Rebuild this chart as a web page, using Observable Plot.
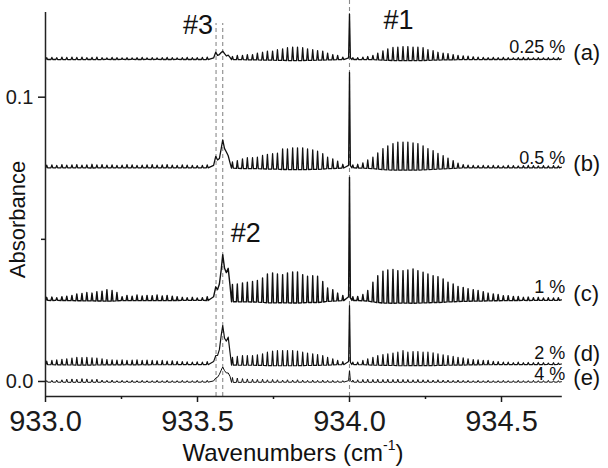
<!DOCTYPE html>
<html><head><meta charset="utf-8">
<script src="https://cdn.jsdelivr.net/npm/d3@7"></script>
<script src="https://cdn.jsdelivr.net/npm/@observablehq/plot@0.6"></script>
<style>
html,body{margin:0;padding:0;background:#fff;}
#chart svg{display:block;}
</style>
</head><body><div id="chart"></div>
<script>
// ---------- data ----------
// positions of the resolved rotational lines (cm-1)
const linePos = [
933.004,933.021,933.037,933.054,933.070,933.087,933.103,933.120,933.136,933.153,
933.169,933.186,933.202,933.219,933.235,933.252,933.268,933.285,933.301,933.318,
933.334,933.351,933.367,933.384,933.400,933.417,933.433,933.450,933.466,933.483,
933.499,933.516,933.532,933.549,933.565,933.582,933.598,933.615,933.631,933.648,
933.664,933.681,933.697,933.714,933.730,933.747,933.763,933.780,933.796,933.813,
933.829,933.846,933.862,933.879,933.895,933.912,933.928,933.945,933.961,933.978,
933.994,934.011,934.027,934.044,934.060,934.077,934.093,934.110,934.126,934.143,
934.159,934.176,934.192,934.209,934.225,934.242,934.258,934.275,934.291,934.308,
934.324,934.341,934.357,934.374,934.390,934.407,934.423,934.440,934.456,934.473,
934.489,934.506,934.522,934.539,934.555,934.572,934.588,934.605,934.621,934.638,
934.654,934.671,934.687];

const traceNames  = ["a","b","c","d","e"];
const traceLabels = ["0.25 %","0.5 %","1 %","2 %","4 %"];
const traceTags   = ["(a)","(b)","(c)","(d)","(e)"];
const traceOffset = [0.1135, 0.0754, 0.0288, 0.0062, 0.0];   // absorbance of each baseline

// line heights above baseline, in 10^-3 absorbance
const heightsA = [
0.4,0.5,0.4,0.6,0.5,0.6,0.5,0.6,0.4,0.5,
0.6,0.4,0.3,0.5,0.4,0.3,0.4,0.3,0.4,0.5,
0.3,0.4,0.3,0.4,0.5,0.4,0.3,0.4,0.5,0.4,
0.4,0.5,0.6,0,0,0,0,0.8,1.2,1.2,
1.5,1.5,2.0,2.3,2.7,2.7,3.2,3.5,3.9,4.1,
4.1,3.9,3.5,3.2,2.9,2.7,2.0,1.5,1.2,0.6,
0,0.4,0.4,0.6,0.8,1.2,2.0,2.8,3.5,4.0,
4.1,4.3,4.3,4.1,4.1,3.9,3.2,2.9,2.3,2.0,
1.8,1.5,1.2,1.0,0.9,0.7,0.6,0.5,0.4,0.5,
0.4,0.5,0.4,0.3,0.4,0.5,0.4,0.3,0.4,0.3,
0.4,0.3,0.4];
const heightsB = [
0.7,0.8,0.6,0.9,0.7,0.8,0.9,0.7,0.8,1.0,
0.8,0.9,0.7,0.8,0.6,0.7,0.9,0.8,0.6,0.7,
0.8,0.9,0.7,0.8,0.9,0.7,0.6,0.8,0.7,0.6,
0.5,0.6,0.8,0,0,0,0,1.8,2.3,2.9,
3.3,3.3,3.5,4.1,4.5,4.7,4.9,6.4,6.4,6.8,
6.8,6.8,6.4,6.1,5.6,4.7,3.5,2.9,2.1,1.0,
0,0.8,1.0,1.5,2.5,3.5,5.0,6.5,7.5,8.3,
8.8,8.8,8.8,8.5,8.3,7.5,6.5,5.8,4.8,4.0,
3.2,2.3,1.4,0.9,0.7,0.6,0.5,0.6,0.5,0.6,
0.5,0.4,0.6,0.5,0.4,0.5,0.6,0.5,0.4,0.5,
0.4,0.5,0.4];
const heightsC = [
0.8,0.9,0.7,1.0,1.2,1.5,2.0,2.2,2.5,2.3,
2.8,3.0,3.5,3.2,2.5,1.0,1.5,1.2,1.6,1.3,
1.5,1.4,1.6,1.3,1.5,1.2,1.0,0.8,0.7,0.8,
0.6,0.7,1.0,0,0,0,0,5.3,5.5,5.9,
6.1,6.4,6.7,7.6,9.0,9.4,9.0,8.8,9.4,9.7,
9.7,8.8,8.2,8.4,8.2,6.4,4.1,3.5,2.3,1.5,
0,1.0,1.1,1.8,3.2,6.1,8.4,10.0,10.4,10.6,
10.2,10.2,10.4,10.8,10.2,9.6,9.0,8.4,8.1,7.3,
6.1,5.5,4.6,4.3,3.8,3.5,3.2,2.8,2.3,2.0,
1.8,1.4,1.4,1.1,1.1,0.8,0.9,0.7,0.8,0.6,
0.7,0.6,0.7];
const heightsD = [
1.0,1.2,1.4,1.6,1.8,2.0,2.3,2.2,2.3,2.1,
2.0,1.8,1.5,1.4,1.3,1.4,1.2,1.3,1.4,1.2,
1.3,1.2,1.1,1.2,1.0,1.1,0.9,0.8,0.7,0.6,
0.7,0.6,0.8,0,0,0,0,2.3,2.6,2.9,
2.9,2.9,3.2,3.5,4.1,4.5,4.7,4.7,4.7,4.7,
4.5,4.1,3.8,3.5,3.3,2.9,2.3,1.8,1.2,0.8,
0,0.6,0.6,1.2,1.8,2.3,2.9,3.3,3.5,3.8,
4.1,4.7,4.1,4.3,4.3,4.1,4.1,3.9,3.5,3.2,
2.9,2.6,2.3,2.1,1.8,1.5,1.4,1.2,1.2,0.9,
0.8,0.6,0.6,0.4,0.6,0.4,0.5,0.4,0.5,0.4,
0.3,0.4,0.3];
const heightsE = [
0.3,0.4,0.5,0.6,0.8,0.9,0.8,1.0,0.9,0.7,
0.8,0.5,0.4,0.5,0.3,0.4,0.3,0.4,0.3,0.4,
0.3,0.3,0.4,0.3,0.4,0.3,0.3,0.4,0.3,0.3,
0.4,0.3,0.4,0,0,0,0,1.4,1.2,1.0,
0.9,0.8,0.7,0.8,0.6,0.7,0.6,0.5,0.6,0.5,
0.6,0.5,0.4,0.5,0.4,0.5,0.4,0.4,0.3,0.3,
0,0.5,0.6,0.7,0.8,0.7,0.8,0.7,0.8,0.7,
0.8,0.7,0.7,0.6,0.7,0.6,0.6,0.5,0.6,0.5,
0.5,0.4,0.5,0.4,0.4,0.3,0.4,0.3,0.4,0.3,
0.3,0.4,0.3,0.3,0.4,0.3,0.3,0.4,0.3,0.3,
0.4,0.3,0.3];

// band #3 / #2 profile (10^-3 absorbance above baseline)
const band2X = [933.553,933.560,933.566,933.572,933.578,933.583,933.589,933.595,933.601,933.607];
const band2A = [0.3,2.3,1.2,1.5,2.2,2.7,1.8,1.0,1.3,0.5];
const band2B = [0.6,3.8,2.5,3.0,6.5,9.6,6.5,5.3,4.0,1.5];
const band2C = [1.0,4.5,3.5,5.5,10.5,15.8,11.0,9.5,11.0,5.0];
const band2D = [0.8,2.9,3.0,5.0,10.0,13.5,9.0,8.0,9.4,4.0];
const band2E = [0.2,1.2,1.5,2.5,4.0,5.1,3.8,3.0,3.0,1.8];
// band #1 profile
const band1X = [933.997,934.000,934.003];
const band1A = [0.3,15.8,0.3];
const band1B = [0.6,33.3,0.5];
const band1C = [1.0,43.0,0.6];
const band1D = [0.8,20.5,0.5];
const band1E = [0.3,3.8,0.3];

const markerX     = [933.561, 933.583, 934.0];
const markerNames = ["#3", "#2", "#1"];

const xTicks = [933.0, 933.5, 934.0, 934.5];
const xMinor = [933.25, 933.75, 934.25];
const yTicks = [0.0, 0.1];
const yMinor = [0.05];

// ---------- layout ----------
const xDomain = [933.0, 934.7];
const yDomain = [-0.00528, 0.13401];
const yAxisTop = 0.1298;
const markerTop = [0.1259, 0.1259, yDomain[1]];
const font = "Liberation Sans, Arial, Helvetica, sans-serif";
const strokeW = [1.3, 1.3, 1.4, 1.2, 1.0];
const labelDy = [-5.6, -3, -7, -5, -1];
const tagDy   = [-6.3, -3, -5.3, -9.6, -3.8];

const heights = [heightsA, heightsB, heightsC, heightsD, heightsE];
const band2 = [band2A, band2B, band2C, band2D, band2E];
const band1 = [band1A, band1B, band1C, band1D, band1E];
const band2Range = [d3.min(band2X) - 0.008, d3.max(band2X) + 0.003];
const band1Range = [d3.min(band1X) - 0.007, d3.max(band1X) + 0.005];
const HW = 0.003; // drawn half-width of a rotational line

function buildTrace(ti) {
  const off = traceOffset[ti], h = heights[ti];
  const inRange = (p, r) => p >= r[0] && p <= r[1];
  const pts = [];
  linePos.forEach((p, k) => {
    if (inRange(p, band2Range) || inRange(p, band1Range)) return;
    const d = (0.2 + 0.1 * h[k]) / 1000;
    pts.push({x: p - HW, y: off - d}, {x: p, y: off + h[k] / 1000}, {x: p + HW, y: off - d});
  });
  band2X.forEach((x, j) => pts.push({x, y: off + band2[ti][j] / 1000}));
  band1X.forEach((x, j) => pts.push({x, y: off + band1[ti][j] / 1000}));
  pts.push({x: xDomain[1], y: off});
  pts.sort((a, b) => a.x - b.x);
  return pts;
}

const traceMarks = traceNames.map((n, i) =>
  Plot.line(buildTrace(i), {x: "x", y: "y", stroke: "#111", strokeWidth: strokeW[i],
    strokeLinejoin: "round", clip: true}));

const labelMarks = traceLabels.map((t, i) =>
  Plot.text([t], {x: () => xDomain[1], y: () => traceOffset[i], text: d => d,
    textAnchor: "end", lineAnchor: "bottom", dx: 3, dy: labelDy[i], fontSize: 18, fill: "#111"}));
const tagMarks = traceTags.map((t, i) =>
  Plot.text([t], {x: () => xDomain[1], y: () => traceOffset[i], text: d => d,
    textAnchor: "start", lineAnchor: "middle", dx: 11, dy: tagDy[i], fontSize: 22, fill: "#111"}));

const markerLabelOpts = [
  {textAnchor: "end", dx: -3, dy: 33},
  {textAnchor: "start", dx: 8, dy: 241.7},
  {textAnchor: "start", dx: 34, dy: 28}
];
const markerMarks = markerNames.map((t, i) =>
  Plot.text([t], {x: () => markerX[i], frameAnchor: "top", text: d => d,
    lineAnchor: "bottom", fontSize: 27, fill: "#111", ...markerLabelOpts[i]}));

const chart = Plot.plot({
  width: 608, height: 468,
  marginLeft: 45, marginRight: 46.2, marginTop: 0, marginBottom: 72,
  x: {domain: xDomain},
  y: {domain: yDomain},
  style: {fontFamily: font, fontSize: "20px", color: "#1a1a1a", background: "#fff", overflow: "visible"},
  marks: [
    Plot.ruleX(markerX, {x: d => d, y1: yDomain[0], y2: (d, i) => markerTop[i],
      stroke: "#8a8a8a", strokeWidth: 1.1, strokeDasharray: "4,3"}),
    ...traceMarks,
    Plot.ruleX([xDomain[0]], {y1: yDomain[0], y2: yAxisTop, stroke: "#222", strokeWidth: 1.5}),
    Plot.ruleY([yDomain[0]], {x1: xDomain[0], x2: xDomain[1], stroke: "#222", strokeWidth: 1.5}),
    Plot.axisX(xTicks, {anchor: "bottom", tickSize: 6, tickPadding: 8, fontSize: 29,
      tickFormat: d3.format(".1f"), label: null, strokeWidth: 1.5}),
    Plot.axisX(xMinor, {anchor: "bottom", tickSize: 3, tickFormat: () => "", label: null, strokeWidth: 1.5}),
    Plot.axisY(yTicks, {anchor: "left", tickSize: 7, tickPadding: 5, fontSize: 20,
      tickFormat: d3.format(".1f"), label: null, strokeWidth: 1.5}),
    Plot.axisY(yMinor, {anchor: "left", tickSize: 4, tickFormat: () => "", label: null, strokeWidth: 1.5}),
    Plot.text(["Absorbance"], {frameAnchor: "left", text: d => d, rotate: -90, textAnchor: "middle",
      dx: -28, dy: 21, fontSize: 22, fill: "#111"}),
    Plot.text(["Wavenumbers (cm-1)"], {frameAnchor: "bottom", text: d => d, textAnchor: "start",
      lineAnchor: "bottom", dx: -121.4, dy: 64, fontSize: 24, fill: "#111"}),
    ...labelMarks,
    ...tagMarks,
    ...markerMarks
  ]
});

// superscript in the x-axis title
chart.querySelectorAll("text").forEach(t => {
  if (t.textContent === "Wavenumbers (cm-1)") {
    t.textContent = "";
    const ns = "http://www.w3.org/2000/svg";
    const a = document.createElementNS(ns, "tspan"); a.textContent = "Wavenumbers (cm";
    const b = document.createElementNS(ns, "tspan"); b.textContent = "-1";
    b.setAttribute("font-size", "14"); b.setAttribute("dy", "-11");
    const c = document.createElementNS(ns, "tspan"); c.textContent = ")";
    c.setAttribute("dy", "11");
    t.append(a, b, c);
  }
});
document.getElementById("chart").appendChild(chart);
</script>
</body></html>
